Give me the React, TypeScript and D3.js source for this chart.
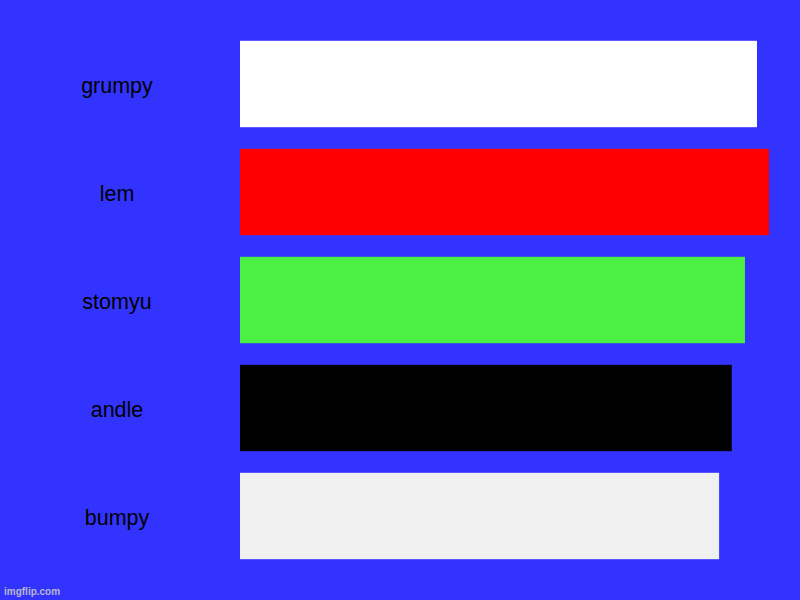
import React from "react";
import * as d3 from "d3";

// chart data
const categories = ["grumpy", "lem", "stomyu", "andle", "bumpy"];
const values = [43, 44, 42, 40.9, 39.85];
const colors = ["#ffffff", "#ff0000", "#4bf042", "#000000", "#f0f0f0"];

const width = 800;
const height = 600;

export default function App() {
  const y = d3
    .scaleBand<string>()
    .domain(categories)
    .range([30, 570])
    .paddingInner(0.2)
    .paddingOuter(0.1);

  const x = d3.scaleLinear().domain([0, d3.max(values)!]).range([240, 769]);

  return (
    <svg
      width={width}
      height={height}
      style={{ position: "fixed", left: 0, top: 0, display: "block" }}
    >
      <rect width={width} height={height} fill="#3333ff" />
      {categories.map((c, i) => (
        <g key={c}>
          <rect
            x={x(0)}
            y={y(c)}
            width={x(values[i]) - x(0)}
            height={y.bandwidth()}
            fill={colors[i]}
          />
          <text
            x={117}
            y={y(c)! + y.bandwidth() / 2 + 1}
            dy="0.35em"
            textAnchor="middle"
            fontFamily="'Liberation Sans', Arial, sans-serif"
            fontSize={21.5}
            fill="#000"
          >
            {c}
          </text>
        </g>
      ))}
      <text
        x={4}
        y={595}
        fontFamily="'Liberation Sans', Arial, sans-serif"
        fontSize={10}
        fontWeight="bold"
        fill="#b8b8cc"
      >
        imgflip.com
      </text>
    </svg>
  );
}
